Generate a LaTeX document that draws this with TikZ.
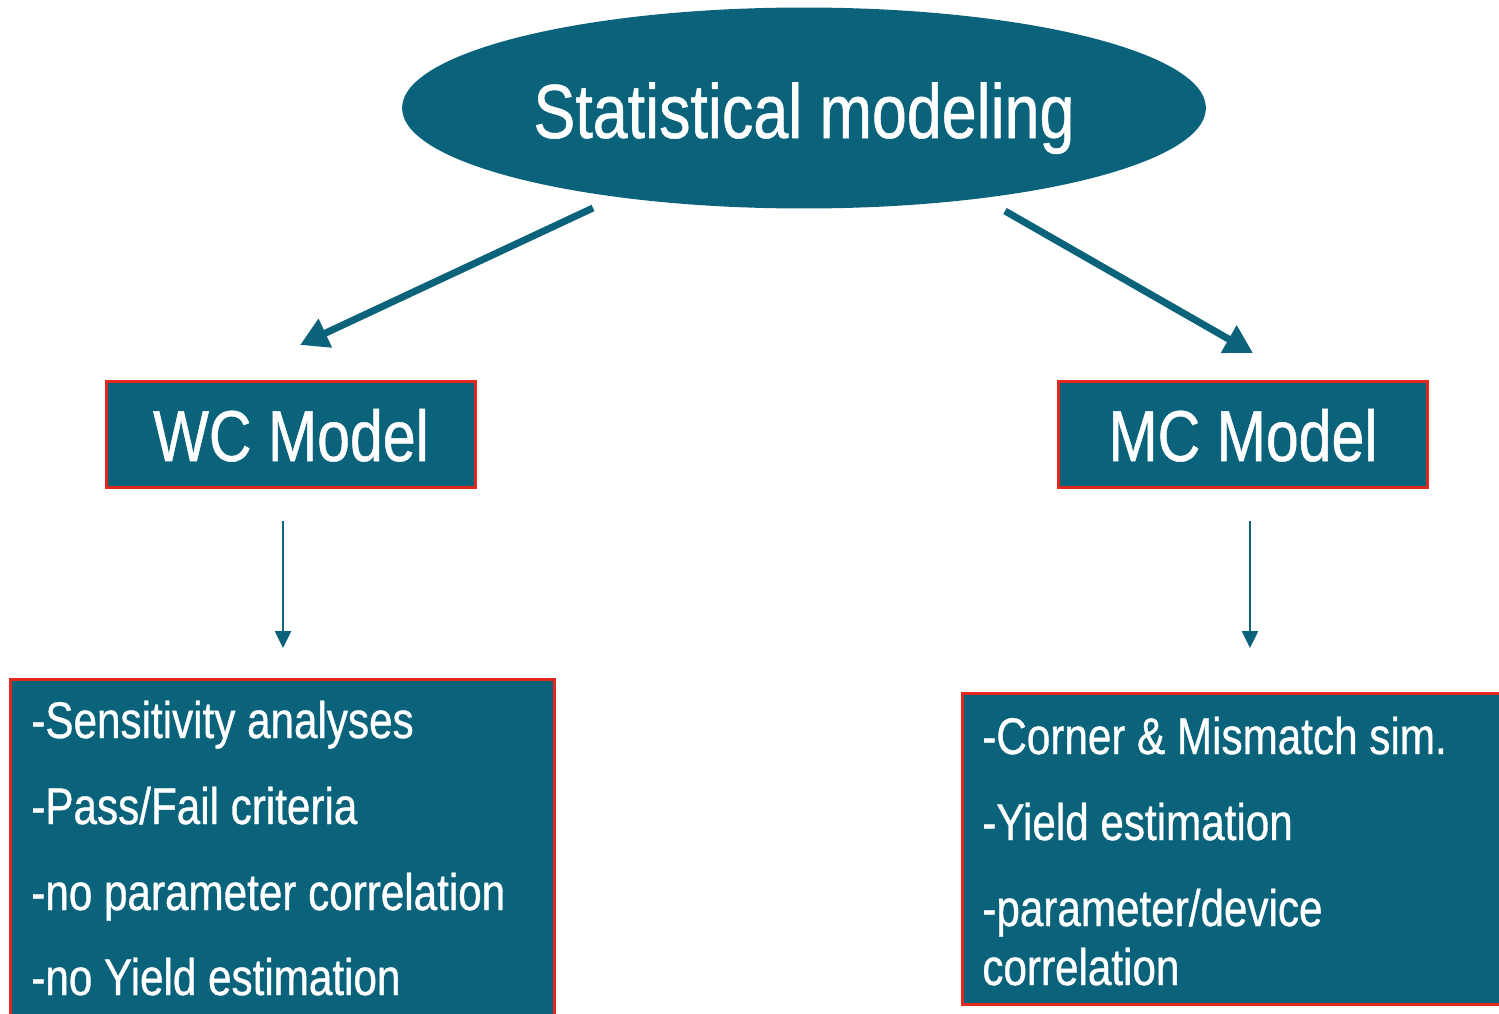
\documentclass[tikz,border=0pt]{standalone}
\usepackage{fontspec}
\setmainfont{Liberation Sans}[FakeStretch=0.82,FakeBold=0.7]
\usetikzlibrary{shapes.geometric,arrows.meta}
\definecolor{teal}{HTML}{0A637A}
\definecolor{edgered}{HTML}{E2291D}
\tikzset{
  titlebox/.style={draw=edgered, line width=0.06cm, fill=teal, inner sep=0pt},
  heavyarrow/.style={draw=teal, line width=0.14cm, -{Triangle[length=0.56cm,width=0.6cm]}},
  thinarrow/.style={draw=teal, line width=0.05cm, -{Triangle[length=0.34cm,width=0.32cm]}},
  bigtext/.style={text=white, inner sep=0pt, font=\fontsize{43.6pt}{50pt}\selectfont},
  headtext/.style={text=white, inner sep=0pt, font=\fontsize{41pt}{48pt}\selectfont},
  listtext/.style={text=white, inner sep=0pt, anchor=base west, font=\fontsize{29.3pt}{34pt}\selectfont},
}
\begin{document}
\begin{tikzpicture}[x=0.02cm, y=-0.02cm]
  \useasboundingbox (0,0) rectangle (1499,1014);
  \clip (0,0) rectangle (1499,1014);

  % top ellipse
  \node[ellipse, fill=teal, inner sep=0pt, minimum width=16.08cm, minimum height=4.02cm] (stat) at (804,108) {};
  \node[bigtext, anchor=base] (stattxt) at (804,138) {Statistical modeling};

  % model boxes
  \node[titlebox, minimum width=7.4cm, minimum height=2.14cm] (wc) at (291,434.5) {};
  \node[headtext, anchor=base] (wctxt) at (291,461) {WC Model};
  \node[titlebox, minimum width=7.4cm, minimum height=2.14cm] (mc) at (1243,434.5) {};
  \node[headtext, anchor=base] (mctxt) at (1243,461) {MC Model};

  % property boxes
  \node[titlebox, minimum width=10.9cm, minimum height=7.02cm] (wclist) at (282.5,854.5) {};
  \node[listtext] (wc1) at (31,738) {-Sensitivity analyses};
  \node[listtext] (wc2) at (31,824) {-Pass/Fail criteria};
  \node[listtext] (wc3) at (31,910) {-no parameter correlation};
  \node[listtext] (wc4) at (31,995) {-no Yield estimation};

  \node[titlebox, minimum width=11.16cm, minimum height=6.24cm] (mclist) at (1241,849) {};
  \node[listtext] (mc1) at (982,754) {-Corner \& Mismatch sim.};
  \node[listtext] (mc2) at (982,840) {-Yield estimation};
  \node[listtext] (mc3) at (982,926) {-parameter/device};
  \node[listtext] (mc4) at (982,985) {correlation};

  % connectors
  \coordinate (sl) at (593,208);
  \coordinate (wcin) at (300,345);
  \coordinate (sr) at (1005,211);
  \coordinate (mcin) at (1253,353);
  \draw[heavyarrow] (sl) -- (wcin);
  \draw[heavyarrow] (sr) -- (mcin);

  \coordinate (wcout) at (283,521);
  \coordinate (wcend) at (283,648);
  \coordinate (mcout) at (1250,521);
  \coordinate (mcend) at (1250,648);
  \draw[thinarrow] (wcout) -- (wcend);
  \draw[thinarrow] (mcout) -- (mcend);
\end{tikzpicture}
\end{document}
